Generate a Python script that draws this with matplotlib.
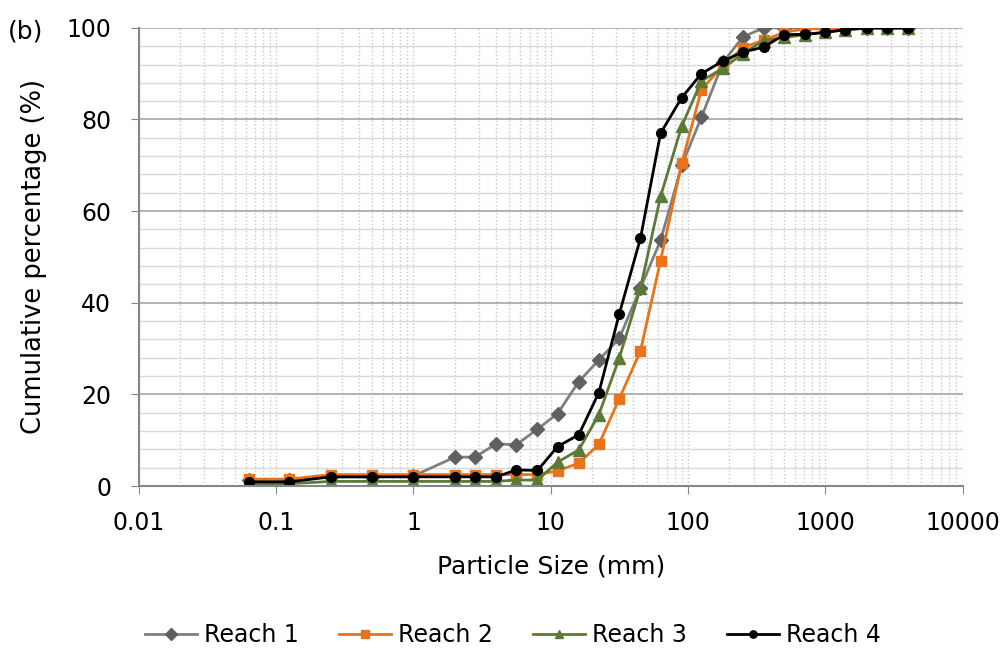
import matplotlib.pyplot as plt
from matplotlib.ticker import FixedLocator, MultipleLocator, NullFormatter

# sieve sizes (mm)
sizes = [0.063, 0.125, 0.25, 0.5, 1, 2, 2.8, 4, 5.6, 8, 11.2, 16, 22.4, 31.5,
         45, 63, 90, 125, 180, 250, 355, 500, 710, 1000, 1400, 2000, 2800, 4000]

reach1 = [1.3, 1.3, 2.0, 2.0, 2.2, 6.3, 6.3, 9.2, 9.0, 12.4, 15.8, 22.8, 27.5, 32.2,
          43.2, 53.6, 70.0, 80.5, 92.5, 98.0, 100, 100, 100, 100, 100, 100, 100, 100]
reach2 = [1.5, 1.5, 2.5, 2.5, 2.5, 2.5, 2.5, 2.5, 2.5, 2.5, 3.3, 5.0, 9.1, 19.0,
          29.5, 49.2, 70.5, 86.5, 91.8, 95.7, 97.3, 99.0, 99.8, 99.8, 100, 100, 100, 100]
reach3 = [0.5, 0.5, 1.0, 1.0, 1.0, 1.0, 1.0, 1.0, 1.3, 1.3, 5.2, 7.9, 15.6, 27.9,
          43.2, 63.2, 78.6, 88.4, 91.2, 94.4, 97.2, 97.9, 98.5, 99.1, 99.6, 99.9, 99.9, 99.9]
reach4 = [0.9, 0.9, 2.0, 2.0, 2.0, 2.0, 2.0, 2.0, 3.5, 3.4, 8.6, 11.2, 20.4, 37.5,
          54.1, 77.0, 84.8, 90.0, 92.8, 94.7, 95.8, 98.5, 98.6, 99.0, 99.6, 100, 100, 100]

fig = plt.figure(figsize=(10.06, 6.48), dpi=100)
ax = fig.add_axes([0.138, 0.25, 0.819, 0.707])

ax.plot(sizes, reach1, color='#7f7f7f', lw=2, marker='D', ms=7.5,
        mfc='#606060', mec='#606060', label='Reach 1')
ax.plot(sizes, reach2, color='#e8731a', lw=2, marker='s', ms=7,
        mfc='#e8731a', mec='#e8731a', label='Reach 2')
ax.plot(sizes, reach3, color='#5b7a35', lw=2, marker='^', ms=8,
        mfc='#5b7a35', mec='#5b7a35', label='Reach 3')
ax.plot(sizes, reach4, color='black', lw=2, marker='o', ms=7,
        mfc='black', mec='black', label='Reach 4')

ax.set_xscale('log')
ax.set_xlim(0.01, 10000)
ax.set_ylim(0, 100)
ax.xaxis.set_major_locator(FixedLocator([0.01, 0.1, 1, 10, 100, 1000, 10000]))
ax.set_xticklabels(['0.01', '0.1', '1', '10', '100', '1000', '10000'])
ax.xaxis.set_minor_formatter(NullFormatter())
ax.yaxis.set_major_locator(MultipleLocator(20))
ax.yaxis.set_minor_locator(MultipleLocator(4))

ax.grid(True, axis='x', which='both', color='#c8c8c8', ls=':', lw=1)
ax.grid(True, axis='y', which='major', color='#a6a6a6', lw=1.2)
ax.grid(True, axis='y', which='minor', color='#d9d9d9', lw=1)
ax.set_axisbelow(True)

for s in ['top', 'right']:
    ax.spines[s].set_visible(False)
for s in ['left', 'bottom']:
    ax.spines[s].set_color('#868686')
    ax.spines[s].set_linewidth(1.5)

ax.tick_params(axis='both', which='major', labelsize=17, length=6, color='#868686')
ax.tick_params(axis='y', which='major', pad=14)
ax.tick_params(axis='x', which='major', pad=12)
ax.tick_params(axis='both', which='minor', length=0)

ax.set_xlabel('Particle Size (mm)', fontsize=18, labelpad=14)
ax.set_ylabel('Cumulative percentage (%)', fontsize=18.5, labelpad=14)

fig.text(0.008, 0.952, '(b)', fontsize=18, va='center')

fig.legend(loc='lower center', bbox_to_anchor=(0.51, -0.032), ncol=4, frameon=False,
           fontsize=17, handlelength=2.2, handletextpad=0.3, columnspacing=1.7,
           markerscale=0.75)

fig.savefig('out.png', dpi=100)
